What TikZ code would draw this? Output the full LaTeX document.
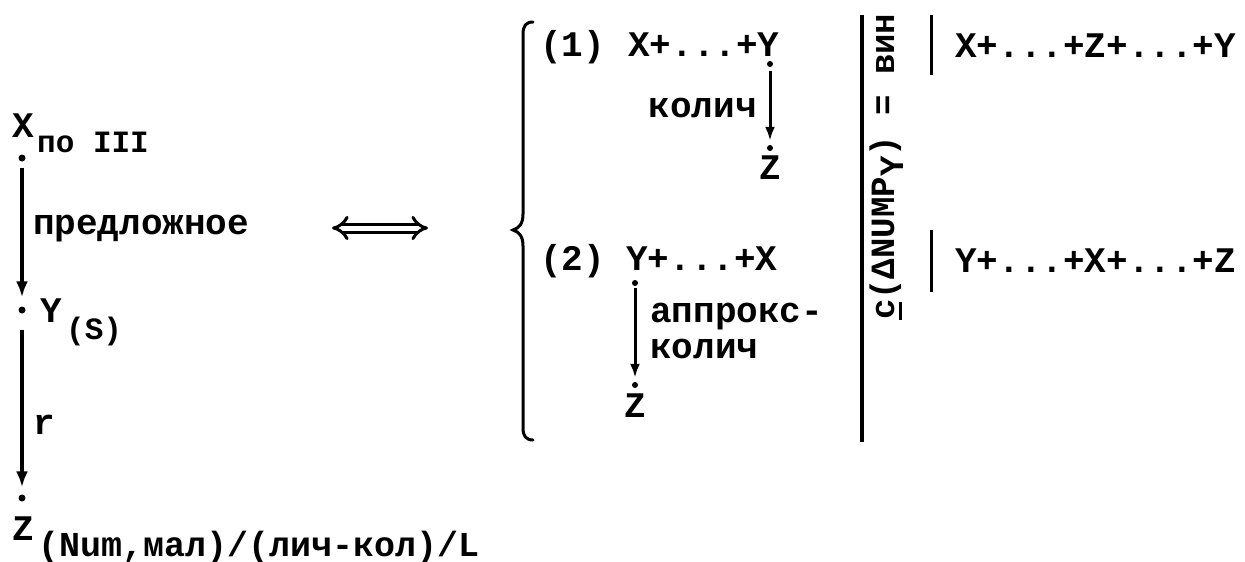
\documentclass[tikz,border=0pt]{standalone}
\usepackage{fontspec}
\setmonofont{Liberation Mono}
\usetikzlibrary{arrows.meta}

\begin{document}
\begin{tikzpicture}[x=1pt, y=-1pt,
    every node/.style={inner sep=0pt, font=\ttfamily\bfseries\fontsize{36}{40}\selectfont},
    sub/.style={font=\ttfamily\bfseries\fontsize{31}{36}\selectfont},
    pnt/.style={circle, fill, minimum size=7pt},
    arr/.style={line width=3.5pt, -{Latex[length=16pt,width=12pt]}},
    sarr/.style={line width=3pt, -{Latex[length=14pt,width=10pt]}}]
    \useasboundingbox (0,0) rectangle (1245,562);

    % Left chain X -> Y -> Z
    \node[anchor=base west] (xl) at (12,137) {X};
    \node[sub, anchor=base west] (xs) at (37,152) {по III};
    \node[pnt] (px) at (22,158) {};
    \node[pnt] (py) at (22,310) {};
    \node[pnt] (pz) at (22,498) {};
    \node[anchor=base west] (yl) at (40,322) {Y};
    \node[sub, anchor=base west] (ys) at (66,339) {(S)};
    \node[anchor=base west] (zl) at (12,540) {Z};
    \node[anchor=base west, font=\ttfamily\bfseries\fontsize{35}{40}\selectfont] (zs) at (38,556) {(Num,мал)/(лич-кол)/L};
    \node[anchor=base west] (prep) at (33,234) {предложное};
    \node[anchor=base west] (rl) at (33,434) {r};
    \draw[arr, shorten <=6pt, shorten >=9pt] (px) -- (py);
    \draw[arr, shorten <=16pt, shorten >=7pt] (py) -- (pz);

    % Equivalence
    \coordinate (ea) at (332,228);
    \coordinate (eb) at (428,228);
    \draw[double, double distance=5pt, line width=3pt, {Implies}-{Implies}] (ea) -- (eb);

    % Brace
    \draw[line width=3pt, line cap=round] (533,22) .. controls (526,22) and (523,26) .. (523,34) -- (523,214)
        .. controls (523,224) and (519,228) .. (513,230) .. controls (519,232) and (523,236) .. (523,246)
        -- (523,428) .. controls (523,436) and (526,440) .. (533,440);

    % Variant (1)
    \node[anchor=base west] (n1) at (540,56) {(1)};
    \node[anchor=base west] (e1) at (628,56) {X+...+Y};
    \node[pnt, minimum size=6pt] (p1a) at (770,64) {};
    \node[pnt, minimum size=6pt] (p1b) at (770,148) {};
    \node[anchor=base] (z1) at (770,179) {Z};
    \node[anchor=base east] (k1) at (757,117) {колич};
    \draw[sarr, shorten <=4pt, shorten >=4pt] (p1a) -- (p1b);

    % Variant (2)
    \node[anchor=base west] (n2) at (540,270) {(2)};
    \node[anchor=base west] (e2) at (626,270) {Y+...+X};
    \node[pnt, minimum size=6pt] (p2a) at (635,283) {};
    \node[pnt, minimum size=6pt] (p2b) at (635,385) {};
    \node[anchor=base] (z2) at (635,417) {Z};
    \node[anchor=base west] (ap) at (650,322) {аппрокс-};
    \node[anchor=base west] (k2) at (650,358) {колич};
    \draw[sarr, shorten <=2pt, shorten >=4pt] (p2a) -- (p2b);

    % Condition
    \draw[line width=3.5pt] (862,15) -- (862,442);
    \node[rotate=90, anchor=base west, font=\ttfamily\bfseries\fontsize{34}{40}\selectfont] (cond) at (894,320)
        {\makebox[0pt][l]{\rule[-8pt]{18pt}{3pt}}c(ΔNUMP\raisebox{-9pt}{Y}) = вин};

    % Results
    \draw[line width=3pt] (931,15) -- (931,75);
    \draw[line width=3pt] (931,230) -- (931,292);
    \node[anchor=base west] (r1) at (955,57) {X+...+Z+...+Y};
    \node[anchor=base west] (r2) at (955,272) {Y+...+X+...+Z};
\end{tikzpicture}
\end{document}
